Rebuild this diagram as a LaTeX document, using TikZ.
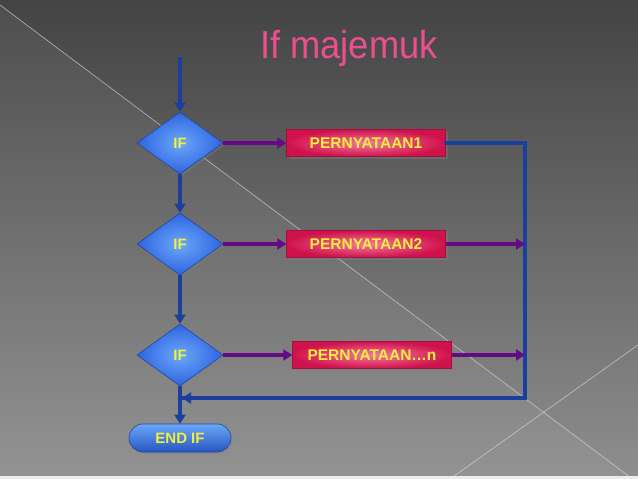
\documentclass[tikz,border=0pt]{standalone}
\usepackage{fontspec}
\setmainfont{Liberation Sans}
\usetikzlibrary{arrows.meta,shapes.geometric,shapes.misc,shadows}
\definecolor{bgtop}{HTML}{444444}
\definecolor{bgbot}{HTML}{8E8E8E}
\definecolor{lbl}{HTML}{F4EE3C}
\definecolor{ttl}{HTML}{EC4F8E}
\definecolor{flowblue}{HTML}{1A3F9C}
\definecolor{flowpurple}{HTML}{650A86}
\definecolor{dinner}{HTML}{6AA8F8}
\definecolor{douter}{HTML}{2F64E2}
\definecolor{rinner}{HTML}{F27A9C}
\definecolor{router}{HTML}{D0124C}
\tikzset{
  decision/.style={diamond, aspect=1.39, minimum width=86pt, minimum height=62pt, inner sep=0pt,
    inner color=dinner, outer color=douter, draw=douter!70!black, line width=0.6pt,
    drop shadow={opacity=0.35, shadow xshift=2pt, shadow yshift=-2pt},
    text=lbl, font=\bfseries\fontsize{15}{15}\selectfont},
  stmt/.style={rectangle, minimum width=159pt, minimum height=27pt, inner sep=0pt,
    inner color=rinner, outer color=router, draw=router!80!black, line width=0.4pt,
    drop shadow={opacity=0.4, shadow xshift=2pt, shadow yshift=-2pt},
    text=lbl, font=\bfseries\fontsize{15.5}{15.5}\selectfont},
  terminal/.style={rounded rectangle, minimum width=102pt, minimum height=28pt, inner sep=0pt,
    top color=dinner, bottom color=douter!85!black, draw=douter!70!black, line width=0.6pt,
    drop shadow={opacity=0.35, shadow xshift=2pt, shadow yshift=-2pt},
    text=lbl, font=\bfseries\fontsize{15}{15}\selectfont},
  vflow/.style={draw=flowblue, line width=3.5pt, -{Triangle[width=11pt,length=9pt]}},
  hflow/.style={draw=flowpurple, line width=3.5pt, -{Triangle[width=11pt,length=9pt]}},
  loopline/.style={draw=flowblue, line width=3.5pt},
  deco/.style={draw=white!75!gray, line width=0.6pt, opacity=0.7}
}
\begin{document}
\begin{tikzpicture}[x=1pt,y=-1pt]
\useasboundingbox (0,0) rectangle (638,479);
\shade[top color=bgtop, bottom color=bgbot] (0,0) rectangle (638,479);
\fill[white, opacity=0.05] (0,5) -- (638,483) -- (0,479) -- cycle;
\draw[deco] (0,5) -- (638,483);
\draw[deco] (450,479) -- (638,345);
\fill[white!85!gray] (0,476) rectangle (638,479);

\node[text=ttl, font=\fontsize{39}{39}\selectfont, xscale=0.93] (title) at (349,48) {If majemuk};

\coordinate (start) at (180,57);
\node[decision] (d1) at (180,143) {IF};
\node[decision] (d2) at (180,244) {IF};
\node[decision] (d3) at (180,355) {IF};
\node[stmt] (r1) at (366,143) {PERNYATAAN1};
\node[stmt] (r2) at (366,244) {PERNYATAAN2};
\node[stmt] (r3) at (372,355) {PERNYATAAN\ldots n};
\node[terminal] (end) at (180,438) {END IF};
\coordinate (c1) at (525,143);
\coordinate (c2) at (525,244);
\coordinate (c3) at (525,355);
\coordinate (c4) at (525,398);
\coordinate (m) at (180,398);

\draw[loopline, line cap=round] (r1.east) -- (c1) -- (c4) -- (m);
\draw[vflow] (c4) -- ([xshift=2pt]m);
\draw[vflow] (start) -- (d1.north);
\draw[vflow] (d1.south) -- (d2.north);
\draw[vflow] (d2.south) -- (d3.north);
\draw[vflow] (d3.south) -- (end.north);
\draw[hflow] (d1.east) -- (r1.west);
\draw[hflow] (d2.east) -- (r2.west);
\draw[hflow] (d3.east) -- (r3.west);
\draw[hflow] (r2.east) -- (c2);
\draw[hflow] (r3.east) -- (c3);
\end{tikzpicture}
\end{document}
